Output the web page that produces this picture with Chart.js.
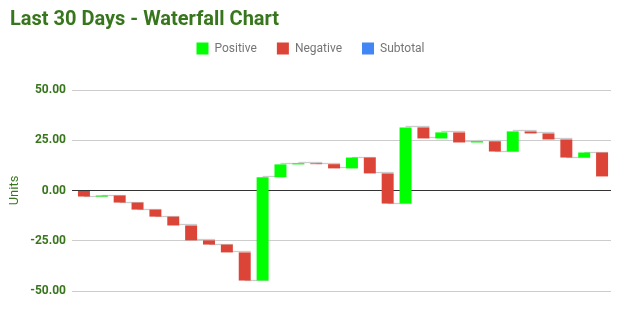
<!DOCTYPE html>
<html>
<head>
<meta charset="utf-8">
<script src="https://cdn.jsdelivr.net/npm/chart.js@4/dist/chart.umd.min.js"></script>
<style>
  html, body { margin: 0; padding: 0; background: #fff; }
  #wrap { width: 626px; height: 334px; }
</style>
</head>
<body>
<div id="wrap"><canvas id="chart"></canvas></div>
<script>
// Daily labels for the last 30 days
const days = [
  'Day 1','Day 2','Day 3','Day 4','Day 5','Day 6','Day 7','Day 8','Day 9','Day 10',
  'Day 11','Day 12','Day 13','Day 14','Day 15','Day 16','Day 17','Day 18','Day 19','Day 20',
  'Day 21','Day 22','Day 23','Day 24','Day 25','Day 26','Day 27','Day 28','Day 29','Day 30'
];

// Change in units for each day
const dailyChange = [
  -3.0, 0.5, -3.5, -3.5, -3.5, -4.4, -7.4, -2.1, -3.9, -14.0,
  51.4, 6.4, 0.5, -0.4, -2.1, 5.4, -7.9, -15.0, 37.9, -5.5,
  3.0, -5.0, 0.6, -5.1, 10.0, -1.0, -3.0, -9.0, 2.5, -11.9
];

// Y axis tick values
const yTicks = [-50, -25, 0, 25, 50];

const GREEN_TEXT = '#38761d';
const COLOR_POS = '#00ff00';
const COLOR_NEG = '#db4437';
const COLOR_SUB = '#4285f4';

// Running totals: totals[i] is the level before day i, totals[i+1] after it
const totals = [0];
dailyChange.forEach(d => totals.push(+(totals[totals.length - 1] + d).toFixed(2)));

const positiveBars = dailyChange.map((d, i) => d >= 0 ? [totals[i], totals[i + 1]] : null);
const negativeBars = dailyChange.map((d, i) => d < 0 ? [totals[i], totals[i + 1]] : null);
const subtotalBars = dailyChange.map(() => null);

// Thin connector lines between consecutive bars at the running level
const connectors = {
  id: 'connectors',
  beforeDatasetsDraw(chart) {
    const { ctx } = chart;
    const y = chart.scales.y;
    const x = chart.scales.x;
    ctx.save();
    ctx.strokeStyle = '#cccccc';
    ctx.lineWidth = 1.3;
    for (let i = 0; i < dailyChange.length - 1; i++) {
      const py = Math.round(y.getPixelForValue(totals[i + 1])) - 0.5;
      ctx.beginPath();
      ctx.moveTo(x.getPixelForValue(i), py);
      ctx.lineTo(x.getPixelForValue(i + 1) + 6, py);
      ctx.stroke();
    }
    ctx.restore();
  }
};

// Extra room between legend and plot
const legendSpacing = {
  id: 'legendSpacing',
  beforeLayout(chart) {
    const legend = chart.legend;
    if (legend && !legend._spaced) {
      const fit = legend.fit;
      legend.fit = function () { fit.call(this); this.height = 67.5; };
      legend._spaced = true;
    }
  }
};

new Chart(document.getElementById('chart'), {
  type: 'bar',
  data: {
    labels: days,
    datasets: [
      { label: 'Positive', data: positiveBars, backgroundColor: COLOR_POS },
      { label: 'Negative', data: negativeBars, backgroundColor: COLOR_NEG },
      { label: 'Subtotal', data: subtotalBars, backgroundColor: COLOR_SUB }
    ]
  },
  options: {
    responsive: true,
    maintainAspectRatio: false,
    animation: false,
    layout: { padding: { left: 10, right: 15, top: 0, bottom: 43 } },
    datasets: { bar: { barPercentage: 0.67, categoryPercentage: 1, borderWidth: 0 } },
    plugins: {
      title: {
        display: true,
        text: 'Last 30 Days - Waterfall Chart',
        align: 'start',
        color: GREEN_TEXT,
        font: { family: 'Roboto', size: 20, weight: 'bold', lineHeight: 1.2 },
        padding: { top: 8, bottom: -9.5 }
      },
      legend: {
        display: true,
        position: 'top',
        align: 'center',
        labels: {
          boxWidth: 12,
          boxHeight: 12,
          padding: 20,
          color: '#757575',
          font: { family: 'Roboto', size: 12 }
        }
      },
      tooltip: { enabled: false }
    },
    scales: {
      x: { display: false, stacked: true },
      y: {
        stacked: false,
        min: -50,
        max: 50,
        afterFit(scale) { scale.width = 65; },
        afterBuildTicks(scale) { scale.ticks = yTicks.map(v => ({ value: v })); },
        border: { display: false },
        grid: {
          color: ctx => (ctx.tick && ctx.tick.value === 0) ? '#333333' : '#cccccc',
          lineWidth: 1,
          drawTicks: true,
          tickLength: 3
        },
        ticks: {
          padding: 6,
          color: GREEN_TEXT,
          font: { family: 'Roboto', size: 12, weight: 'bold' },
          callback: v => Number(v).toFixed(2)
        },
        title: {
          display: true,
          text: 'Units',
          color: GREEN_TEXT,
          font: { family: 'Roboto', size: 13 },
          padding: { top: -3, bottom: 0 }
        }
      }
    }
  },
  plugins: [connectors, legendSpacing]
});
</script>
</body>
</html>
